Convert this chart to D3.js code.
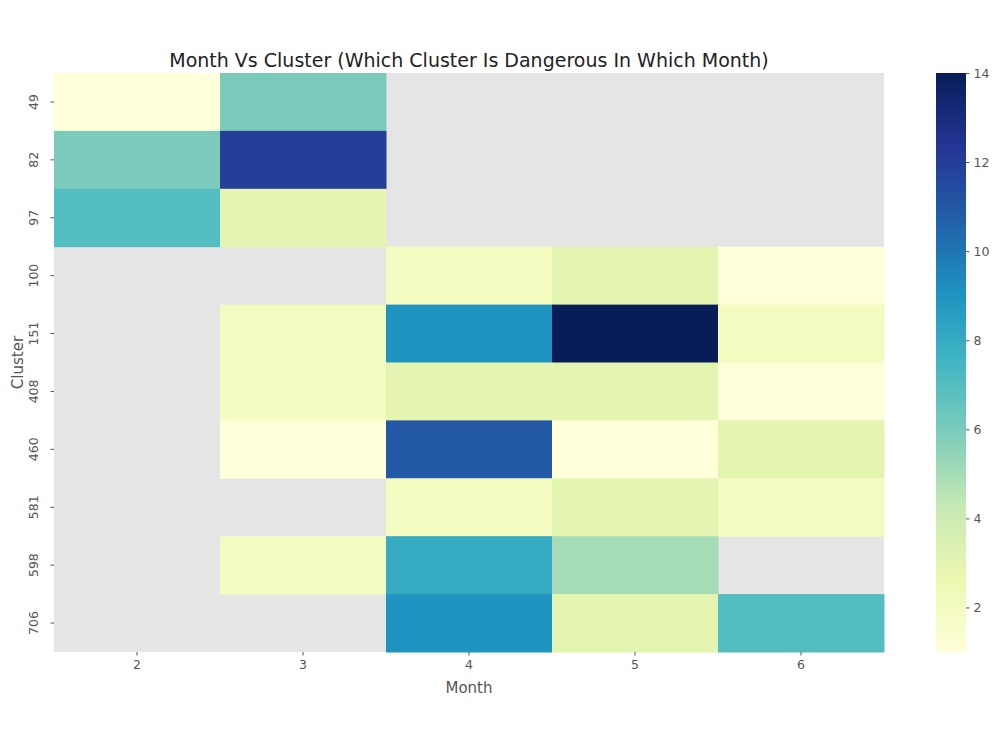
<!DOCTYPE html>
<html>
<head>
<meta charset="utf-8">
<script src="https://cdn.jsdelivr.net/npm/d3@7"></script>
<style>
  body { margin: 0; background: #fff; }
  text { font-family: "DejaVu Sans", sans-serif; }
</style>
</head>
<body>
<svg id="chart"></svg>
<script>
const months = [2, 3, 4, 5, 6];
const clusters = [49, 82, 97, 100, 151, 408, 460, 581, 598, 706];
// counts per cluster, one entry per month (null = no data)
const counts = [
  [1, 6, null, null, null],
  [6, 12, null, null, null],
  [7, 3, null, null, null],
  [null, null, 2, 3, 1],
  [null, 2, 9, 14, 2],
  [null, 2, 3, 3, 1],
  [null, 1, 11, 1, 3],
  [null, null, 2, 3, 2],
  [null, 2, 8, 5, null],
  [null, null, 9, 3, 7]
];
const colorTicks = [2, 4, 6, 8, 10, 12, 14];
const palette = ["#ffffd9", "#edf8b1", "#c7e9b4", "#7fcdbb", "#41b6c4", "#1d91c0", "#225ea8", "#253494", "#081d58"];

const width = 1000, height = 750;
const margin = {left: 54, top: 73, right: 884, bottom: 652};

const svg = d3.select("#chart").attr("width", width).attr("height", height);

const x = d3.scaleBand().domain(months).range([margin.left, margin.right]);
const y = d3.scaleBand().domain(clusters).range([margin.top, margin.bottom]);

const vmin = 1, vmax = 14;
const color = d3.scaleLinear()
  .domain(palette.map((c, i) => vmin + (vmax - vmin) * i / (palette.length - 1)))
  .range(palette)
  .clamp(true);

// background for missing cells
svg.append("rect")
  .attr("x", margin.left).attr("y", margin.top)
  .attr("width", margin.right - margin.left)
  .attr("height", margin.bottom - margin.top)
  .attr("fill", "#e5e5e5");

const cells = [];
clusters.forEach((c, i) => {
  months.forEach((m, j) => {
    if (counts[i][j] !== null) cells.push({cluster: c, month: m, value: counts[i][j]});
  });
});

svg.append("g").selectAll("rect")
  .data(cells)
  .enter()
  .append("rect")
  .attr("x", d => x(d.month))
  .attr("y", d => y(d.cluster))
  .attr("width", x.bandwidth() + 0.5)
  .attr("height", y.bandwidth() + 0.5)
  .attr("fill", d => color(d.value));

// axes
const xAxis = svg.append("g")
  .attr("transform", "translate(0," + margin.bottom + ")")
  .call(d3.axisBottom(x).tickSize(3.5).tickPadding(5));
xAxis.select(".domain").remove();
xAxis.selectAll("line").attr("stroke", "#555");
xAxis.selectAll("text").attr("fill", "#555").style("font-size", "12.5px");

const yAxis = svg.append("g")
  .attr("transform", "translate(" + margin.left + ",0)")
  .call(d3.axisLeft(y).tickSize(3.5).tickPadding(5));
yAxis.select(".domain").remove();
yAxis.selectAll("line").attr("stroke", "#555");
yAxis.selectAll("text")
  .attr("fill", "#555")
  .style("font-size", "12.5px")
  .attr("text-anchor", "middle")
  .attr("dy", "0")
  .attr("x", 0)
  .attr("transform", "translate(-16,0) rotate(-90)");

// labels
svg.append("text")
  .attr("x", (margin.left + margin.right) / 2)
  .attr("y", 693)
  .attr("text-anchor", "middle")
  .attr("fill", "#555")
  .style("font-size", "15px")
  .text("Month");

svg.append("text")
  .attr("transform", "translate(23," + ((margin.top + margin.bottom) / 2) + ") rotate(-90)")
  .attr("text-anchor", "middle")
  .attr("fill", "#555")
  .style("font-size", "15px")
  .text("Cluster");

svg.append("text")
  .attr("x", (margin.left + margin.right) / 2)
  .attr("y", 67)
  .attr("text-anchor", "middle")
  .attr("fill", "#222")
  .style("font-size", "19px")
  .text("Month Vs Cluster (Which Cluster Is Dangerous In Which Month)");

// colorbar
const cbX = 936, cbW = 30;
const cbScale = d3.scaleLinear().domain([vmin, vmax]).range([margin.bottom, margin.top]);
const defs = svg.append("defs");
const grad = defs.append("linearGradient")
  .attr("id", "cbgrad")
  .attr("x1", 0).attr("y1", 1).attr("x2", 0).attr("y2", 0);
grad.selectAll("stop")
  .data(palette)
  .enter()
  .append("stop")
  .attr("offset", (d, i) => i / (palette.length - 1))
  .attr("stop-color", d => d);

svg.append("rect")
  .attr("x", cbX).attr("y", margin.top)
  .attr("width", cbW).attr("height", margin.bottom - margin.top)
  .attr("fill", "url(#cbgrad)");

const cbAxis = svg.append("g")
  .attr("transform", "translate(" + (cbX + cbW) + ",0)")
  .call(d3.axisRight(cbScale).tickValues(colorTicks).tickSize(3.5).tickPadding(4));
cbAxis.select(".domain").remove();
cbAxis.selectAll("line").attr("stroke", "#555");
cbAxis.selectAll("text").attr("fill", "#555").style("font-size", "12.5px");
</script>
</body>
</html>
